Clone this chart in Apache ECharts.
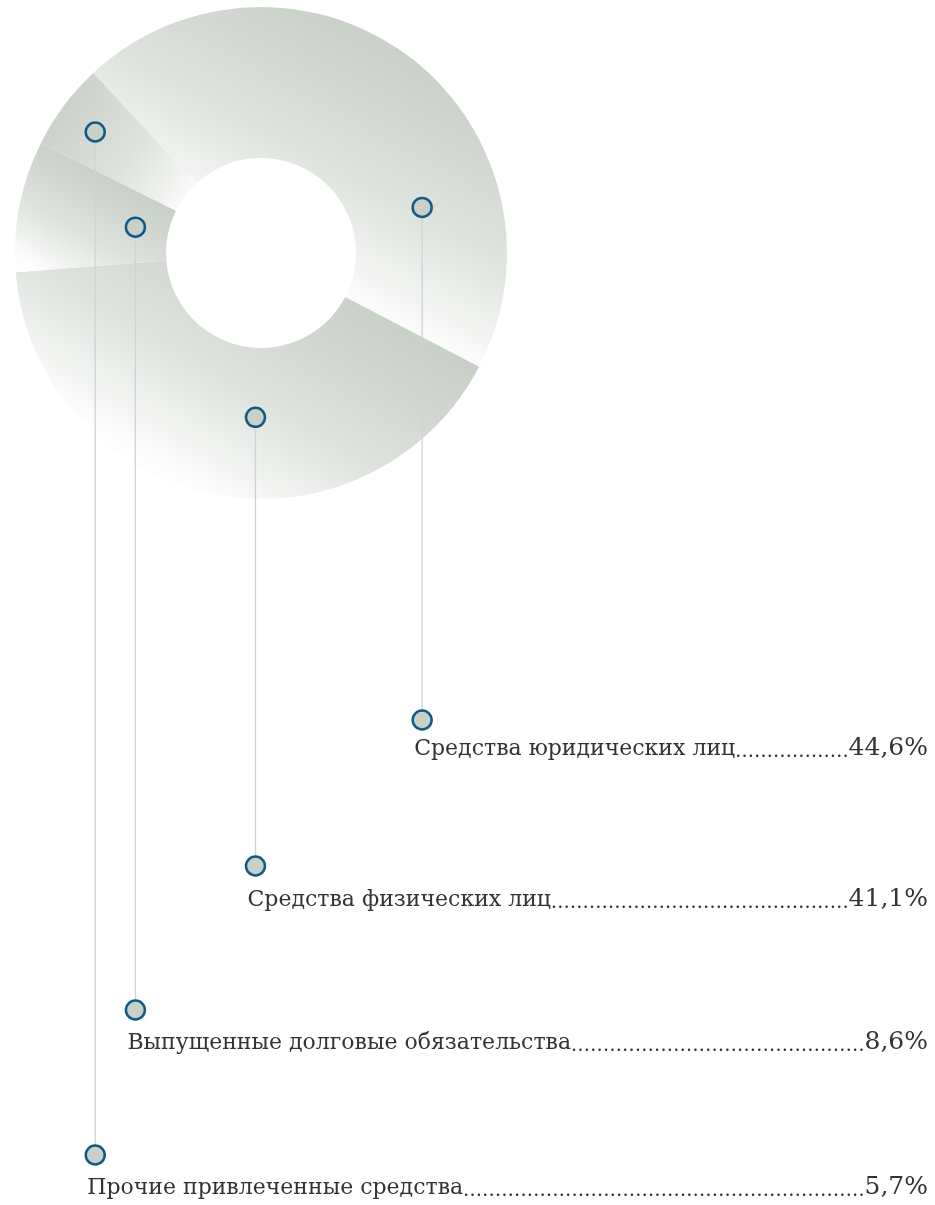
<!DOCTYPE html>
<html>
<head>
<meta charset="utf-8">
<script src="https://cdn.jsdelivr.net/npm/echarts@6/dist/echarts.min.js"></script>
<style>
    html, body { margin: 0; padding: 0; background: #fff; }
    #container { width: 935px; height: 1205px; }
</style>
</head>
<body>
<div id="container"></div>
<script>
// data
var names = [
    'Средства юридических лиц',
    'Средства физических лиц',
    'Выпущенные долговые обязательства',
    'Прочие привлеченные средства'
];
var values = [44.6, 41.1, 8.6, 5.7];
var valueLabels = ['44,6%', '41,1%', '8,6%', '5,7%'];

// layout / style
var pieCenter = [261, 253];
var pieRadius = [95, 246];
var startAngle = 133;
// where the marker sits in its slice: share of the arc, share of the ring width
var anchorArc = [0.73, 0.435, 0.52, 0.47];
var anchorRing = [0.48, 0.46, 0.22, 0.73];
var rowBaseline = [757, 908, 1051, 1196];
var rowMarker = [720, 866, 1010, 1155];
var rightEdge = 928;
var nameSize = 22;
var valueSize = 25;
var nameFont = nameSize + "px 'DejaVu Serif'";
var valueFont = valueSize + "px 'DejaVu Serif'";
var dotStep = 6.4;
var shades = [
    [0.70, 0.06, 0.40, 0.70],
    [1.0, 0.45, 0.72, 1.35],
    [1.0, 0.52, 0.63, 1.33],
    [0.03, 0.2, 1.0, 0.95]
];

function shade(s) {
    return new echarts.graphic.LinearGradient(s[0], s[1], s[2], s[3], [
        { offset: 0, color: '#c8cfc7' },
        { offset: 0.55, color: '#dde2dc' },
        { offset: 1, color: '#fdfdfd' }
    ]);
}

var dom = document.getElementById('container');
var myChart = echarts.init(dom, null, { renderer: 'canvas' });

var option = {
    animation: false,
    backgroundColor: '#ffffff',
    series: [
        {
            type: 'pie',
            center: pieCenter,
            radius: pieRadius,
            startAngle: startAngle,
            clockwise: true,
            silent: true,
            label: { show: false },
            labelLine: { show: false },
            emphasis: { disabled: true },
            data: names.map(function (n, i) {
                return {
                    name: n,
                    value: values[i],
                    itemStyle: { color: shade(shades[i]), borderWidth: 0 }
                };
            })
        }
    ]
};
myChart.setOption(option);

// slice geometry from the pie layout
function sliceLayout(i) {
    try {
        var l = myChart.getModel().getSeriesByIndex(0).getData().getItemLayout(i);
        if (l) return l;
    } catch (e) {}
    var total = values.reduce(function (a, b) { return a + b; }, 0);
    var a = -startAngle * Math.PI / 180;
    for (var k = 0; k < i; k++) a += values[k] / total * Math.PI * 2;
    return {
        cx: pieCenter[0], cy: pieCenter[1], r0: pieRadius[0], r: pieRadius[1],
        startAngle: a, endAngle: a + values[i] / total * Math.PI * 2
    };
}

var ctx = document.createElement('canvas').getContext('2d');
function textWidth(s, font) {
    ctx.font = font;
    return ctx.measureText(s).width;
}

var elements = [];
names.forEach(function (n, i) {
    var l = sliceLayout(i);
    var ang = l.startAngle + anchorArc[i] * (l.endAngle - l.startAngle);
    var rr = l.r0 + anchorRing[i] * (l.r - l.r0);
    var ax = l.cx + rr * Math.cos(ang);
    var ay = l.cy + rr * Math.sin(ang);

    elements.push({
        type: 'line', z: 100, silent: true,
        shape: { x1: ax, y1: ay, x2: ax, y2: rowMarker[i] },
        style: { stroke: '#cfd4d2', lineWidth: 1.3 }
    });
    [ay, rowMarker[i]].forEach(function (cy) {
        elements.push({
            type: 'circle', z: 101, silent: true,
            shape: { cx: ax, cy: cy, r: 9.5 },
            style: { fill: '#c9d0c8', stroke: '#0e5a8a', lineWidth: 2.5 }
        });
    });

    var nameX = ax - 8;
    var nameEnd = nameX + textWidth(n, nameFont);
    var valStart = rightEdge - textWidth(valueLabels[i], valueFont);
    var y = rowBaseline[i];

    elements.push({
        type: 'text', z: 101, silent: true,
        style: {
            text: n, x: nameX, y: y - nameSize * 0.35,
            font: nameFont, fill: '#333333',
            textAlign: 'left', textVerticalAlign: 'middle'
        }
    });
    // dotted leader between the name and the value
    var x1 = nameEnd + 3, x2 = valStart - 3;
    var count = Math.max(Math.round((x2 - x1) / dotStep), 1);
    elements.push({
        type: 'line', z: 101, silent: true,
        shape: { x1: x1, y1: y - 1.3, x2: x2 + 0.01, y2: y - 1.3 },
        style: {
            stroke: '#2e2e2e', lineWidth: 2.5, lineCap: 'round',
            lineDash: [0.01, (x2 - x1) / count - 0.01]
        }
    });
    elements.push({
        type: 'text', z: 101, silent: true,
        style: {
            text: valueLabels[i], x: rightEdge, y: y - valueSize * 0.35,
            font: valueFont, fill: '#333333',
            textAlign: 'right', textVerticalAlign: 'middle'
        }
    });
});

myChart.setOption({ graphic: { elements: elements } });

window.addEventListener('resize', myChart.resize);
</script>
</body>
</html>
